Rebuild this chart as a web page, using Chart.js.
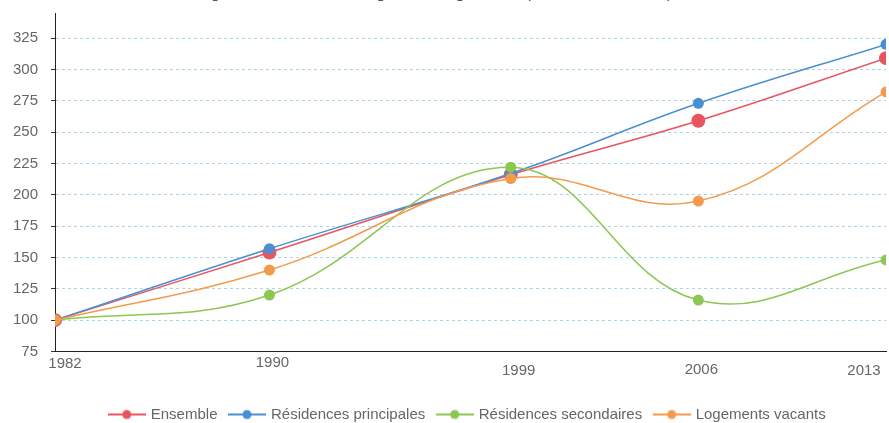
<!DOCTYPE html>
<html lang="fr">
<head>
<meta charset="utf-8">
<title>Logements – indice base 100 en 1982</title>
<script src="https://cdn.jsdelivr.net/npm/chart.js@4/dist/chart.umd.min.js"></script>
<style>
  html, body { margin: 0; padding: 0; background: #fff; }
  #frame { position: relative; width: 889px; height: 423px; overflow: hidden; }
  #chart { position: absolute; left: 0; top: -17px; }
</style>
</head>
<body>
<div id="frame"><canvas id="chart" width="889" height="449"></canvas></div>
<script>
// Indices (base 100 en 1982) par catégorie de logement
const years = [1982, 1990, 1999, 2006, 2013];
const ensemble = [100, 154, 216, 259, 309];
const residencesPrincipales = [100, 157, 217, 273, 320];
const residencesSecondaires = [100, 120, 222, 116, 148];
const logementsVacants = [100, 140, 213, 195, 282];
const seriesNames = ['Ensemble', 'Résidences principales', 'Résidences secondaires', 'Logements vacants'];
const yTicks = [75, 100, 125, 150, 175, 200, 225, 250, 275, 300, 325];

const FONT = '"Liberation Sans", Arial, Helvetica, sans-serif';
const TEXT = '#666';
const colors = ['#e8555f', '#4a8fd0', '#8cc653', '#f39b4d'];
const radii = [7, 5.5, 5.5, 5.5];

// Légende : petit trait avec pastille, comme sur les courbes
function legendMarker(color) {
  const c = document.createElement('canvas');
  c.width = 38; c.height = 12;
  const g = c.getContext('2d');
  g.strokeStyle = color; g.lineWidth = 2;
  g.beginPath(); g.moveTo(0, 6); g.lineTo(38, 6); g.stroke();
  g.fillStyle = color;
  g.beginPath(); g.arc(19, 6, 4.5, 0, Math.PI * 2); g.fill();
  return c;
}
const markers = colors.map(legendMarker);

const seriesValues = [ensemble, residencesPrincipales, residencesSecondaires, logementsVacants];
const datasets = seriesValues.map((vals, i) => ({
  label: seriesNames[i],
  data: years.map((yr, k) => ({ x: yr, y: vals[k] })),
  borderColor: colors[i],
  backgroundColor: colors[i],
  pointBackgroundColor: colors[i],
  pointBorderWidth: 0,
  pointRadius: radii[i],
  pointHoverRadius: radii[i],
  borderWidth: 1.5,
  tension: 0.4,
  order: seriesValues.length - i
}));

// Libellés des années sous l'axe, légèrement décalés
const yearLabelShift = { 1982: [10, 12.5], 1990: [3, 11.5], 1999: [8, 19], 2006: [3, 18], 2013: [-22, 19] };
const yearLabels = {
  id: 'yearLabels',
  afterDraw(chart) {
    const xs = chart.scales.x;
    const ctx = chart.ctx;
    ctx.save();
    ctx.font = '15px ' + FONT;
    ctx.fillStyle = TEXT;
    ctx.textAlign = 'center';
    ctx.textBaseline = 'middle';
    years.forEach(yr => {
      const [dx, dy] = yearLabelShift[yr] || [0, 12];
      ctx.fillText(String(yr), xs.getPixelForValue(yr) + dx, chart.chartArea.bottom + dy);
    });
    ctx.restore();
  }
};

// Décale la légende vers la droite
const legendShift = {
  id: 'legendShift',
  afterLayout(chart) {
    chart.legend.left += 18.5;
    chart.legend.right += 18.5;
  }
};

new Chart(document.getElementById('chart'), {
  type: 'line',
  data: { datasets },
  plugins: [yearLabels, legendShift],
  options: {
    responsive: false,
    animation: false,
    events: [],
    layout: { autoPadding: false, padding: { left: 13, right: 3, top: 0, bottom: 0 } },
    scales: {
      x: {
        type: 'linear',
        min: years[0],
        max: years[years.length - 1],
        grid: { display: false },
        border: { display: true, color: '#222', width: 1 },
        ticks: { display: false },
        afterFit(scale) { scale.height = 42.5; }
      },
      y: {
        min: 75,
        max: 345,
        afterBuildTicks(scale) { scale.ticks = yTicks.map(v => ({ value: v })); },
        grid: {
          color: '#a9d5ee',
          lineWidth: 1,
          tickColor: '#333',
          tickLength: 4,
          tickWidth: 1
        },
        border: { display: true, color: '#222', width: 1, dash: [3, 3] },
        ticks: {
          padding: 13,
          color: TEXT,
          font: { family: FONT, size: 15 }
        },
        afterFit(scale) { scale.width = 42; }
      }
    },
    plugins: {
      title: {
        display: true,
        align: 'start',
        text: 'Évolution du nombre de logements selon la catégorie de logements (base 100 en 1982)',
        color: '#555',
        font: { family: FONT, size: 17, weight: 'normal' },
        padding: { top: 0, bottom: 9.6 }
      },
      legend: {
        position: 'bottom',
        align: 'center',
        labels: {
          color: TEXT,
          font: { family: FONT, size: 15 },
          usePointStyle: true,
          pointStyleWidth: 33,
          boxHeight: 12,
          padding: 13,
          sort: (a, b) => a.datasetIndex - b.datasetIndex,
          generateLabels(chart) {
            return Chart.defaults.plugins.legend.labels.generateLabels(chart)
              .map(item => Object.assign(item, { pointStyle: markers[item.datasetIndex] }));
          }
        }
      },
      tooltip: { enabled: false }
    }
  }
});
</script>
</body>
</html>
